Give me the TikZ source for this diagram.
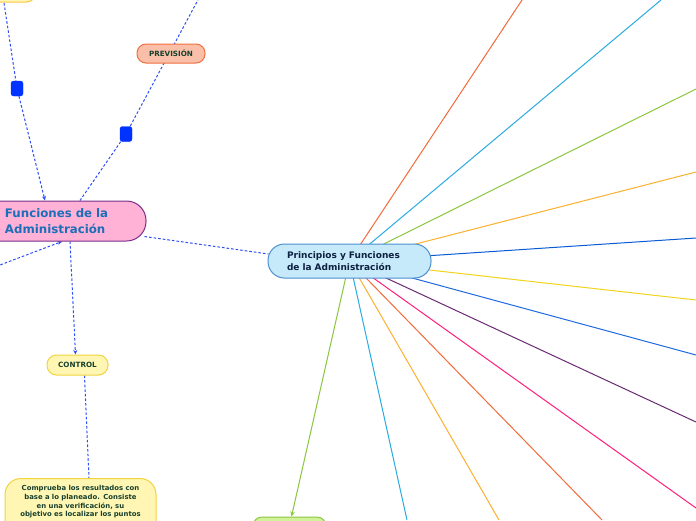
\documentclass[tikz,border=0pt]{standalone}
\usepackage{fontspec}
\setmainfont{DejaVu Sans}
\usetikzlibrary{arrows.meta,backgrounds,calc}
\definecolor{relblue}{HTML}{2D4EF5}
\definecolor{sqblue}{HTML}{0033FF}
\definecolor{funfill}{HTML}{FFB1D6}
\definecolor{funborder}{HTML}{7A2E8C}
\definecolor{funtext}{HTML}{1C6EB8}
\definecolor{cenfill}{HTML}{C7EAFB}
\definecolor{cenborder}{HTML}{4A8FD0}
\definecolor{centext}{HTML}{0D2140}
\definecolor{prevfill}{HTML}{F9BFA8}
\definecolor{prevborder}{HTML}{F07040}
\definecolor{yelfill}{HTML}{FFF6B3}
\definecolor{yelborder}{HTML}{F0D43C}
\definecolor{topborder}{HTML}{F8C64A}
\definecolor{grnfill}{HTML}{D2F29A}
\definecolor{darkgreen}{HTML}{17402E}
\definecolor{corange}{HTML}{F26B3A}
\definecolor{csky}{HTML}{29ABE2}
\definecolor{cgreen}{HTML}{8CC63F}
\definecolor{cgold}{HTML}{FBB12F}
\definecolor{cblue}{HTML}{0A5BD6}
\definecolor{cyellow}{HTML}{F2D41C}
\definecolor{cblue2}{HTML}{1F6AE0}
\definecolor{cpurple}{HTML}{6B2A74}
\definecolor{cpink}{HTML}{FF1E7A}
\begin{document}
\begin{tikzpicture}[x=1pt,y=-1pt,
  rel/.style={draw=relblue, line width=1pt, dash pattern=on 2.6pt off 2pt},
  reltip/.style={-{Stealth[length=4.5pt,width=4pt]}},
  branch/.style={line width=1pt},
  pill/.style={line width=1pt, inner sep=0pt, align=center, font=\bfseries},
  smalltxt/.style={font=\fontsize{7.2}{9}\selectfont\bfseries, text=darkgreen},
  sqnode/.style={fill=sqblue, draw=sqblue, rounded corners=2.5pt, minimum width=12pt, minimum height=15pt, inner sep=0pt}
]
\useasboundingbox (0,0) rectangle (696,520);
\clip (0,0) rectangle (696,520);

% nodes
\node[pill, draw=topborder, fill=yelfill, rounded corners=9pt, minimum width=90pt, minimum height=20pt, anchor=south east] (topy) at (36,2.5) {};
\node[pill, draw=prevborder, fill=prevfill, rounded corners=9pt, minimum width=68pt, minimum height=19pt, smalltxt] (prev) at (171,53.5) {PREVISIÓN};
\node[sqnode] (s1) at (17,88.5) {};
\node[sqnode] (s2) at (126,134) {};
\node[pill, draw=funborder, fill=funfill, rounded corners=19.5pt, minimum width=176pt, minimum height=40pt, text width=106pt, align=left, text=funtext, font=\fontsize{11.8}{15.5}\selectfont\bfseries] (fun) at (58,221) {Funciones de la\\Administración};
\node[pill, draw=cenborder, fill=cenfill, rounded corners=16.5pt, minimum width=163pt, minimum height=34pt, text width=125pt, align=left, text=centext, font=\fontsize{9}{12}\selectfont\bfseries] (cen) at (349.5,261) {Principios y Funciones\\de la Administración};
\node[pill, draw=yelborder, fill=yelfill, rounded corners=9.5pt, minimum width=61pt, minimum height=20pt, smalltxt] (con) at (77.5,365) {CONTROL};
\node[pill, draw=yelborder, fill=yelfill, rounded corners=16pt, minimum width=151pt, anchor=north, inner ysep=7pt, text width=140pt, align=center, text=darkgreen, font=\fontsize{6.9}{8.7}\selectfont\bfseries] (big) at (80.5,478) {Comprueba los resultados con\\base a lo planeado. Consiste\\en una verificación, su\\objetivo es localizar los puntos\\\rule{0pt}{24pt}};
\node[pill, draw=cgreen, fill=grnfill, rounded corners=9pt, minimum width=73pt, minimum height=20pt, anchor=north] (grn) at (289.5,516.5) {};

% free ends
\coordinate (t1) at (4,3);
\coordinate (t2) at (199,-2);
\coordinate (l1) at (-4,266.5);
\coordinate (e1) at (522,0);
\coordinate (e2) at (661,0);
\coordinate (e3) at (696,89);
\coordinate (e4) at (696,172);
\coordinate (e5) at (696,238);
\coordinate (e6) at (696,300);
\coordinate (e7) at (696,355);
\coordinate (e8) at (696,422);
\coordinate (e9) at (696,508);
\coordinate (e10) at (602,520);
\coordinate (e11) at (499,520);
\coordinate (e12) at (407,520);

\begin{pgfonlayer}{background}
\clip (0,0) rectangle (696,520);
\fill[white] (0,0) rectangle (696,520);
% dashed relation lines
\draw[rel] (t1) -- (s1);
\draw[rel, reltip] (s1) -- ($(fun.north)+(-13,0)$);
\draw[rel] (t2) -- (s2);
\draw[rel] (s2) -- ($(fun.north)+(22,0)$);
\draw[rel, reltip] (l1) -- ($(fun.south)+(4,0)$);
\draw[rel, reltip] ($(fun.south)+(12,0)$) -- ($(con.north)+(-2,0)$);
\draw[rel] ($(con.south)+(7,0)$) -- ($(big.north)+(8.5,0)$);
\draw[rel] ($(fun.south east)+(-2,-5)$) -- ($(cen.west)+(1,-7)$);
% coloured branches
\draw[branch, corange] (cen.center) -- (e1);
\draw[branch, csky] (cen.center) -- (e2);
\draw[branch, cgreen] (cen.center) -- (e3);
\draw[branch, cgold] (cen.center) -- (e4);
\draw[branch, cblue] (cen.center) -- (e5);
\draw[branch, cyellow] (cen.center) -- (e6);
\draw[branch, cblue2] (cen.center) -- (e7);
\draw[branch, cpurple] (cen.center) -- (e8);
\draw[branch, cpink] (cen.center) -- (e9);
\draw[branch, corange] (cen.center) -- (e10);
\draw[branch, cgold] (cen.center) -- (e11);
\draw[branch, csky] (cen.center) -- (e12);
\draw[branch, cgreen, -{Stealth[length=5pt,width=4.5pt]}] (cen.center) -- ($(grn.north)+(2,0)$);
\end{pgfonlayer}
\end{tikzpicture}
\end{document}
